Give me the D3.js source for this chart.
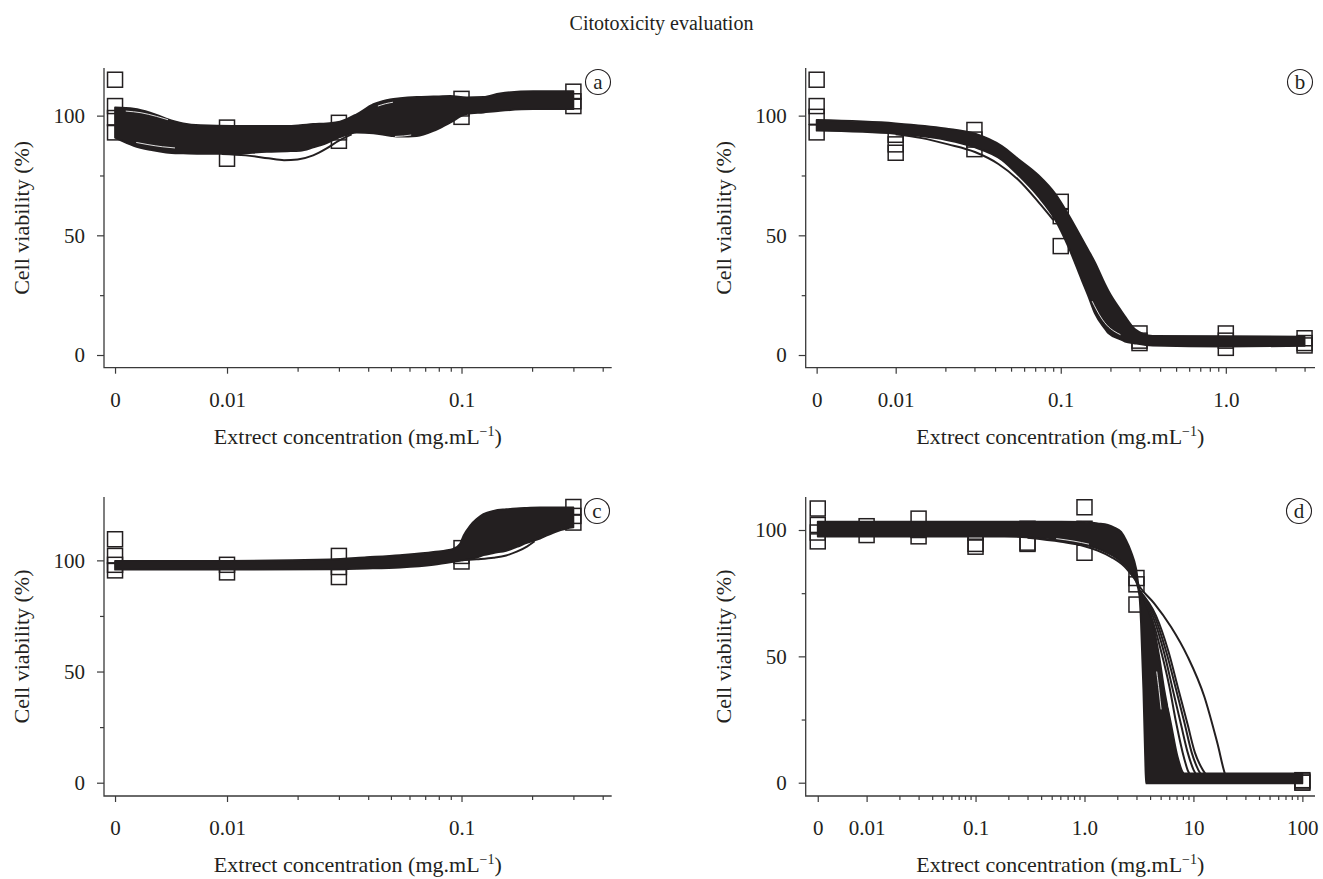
<!DOCTYPE html>
<html>
<head>
<meta charset="utf-8">
<script src="https://cdn.jsdelivr.net/npm/d3@7"></script>
<style>
  body { margin: 0; background: #fff; }
  text { font-family: "Liberation Serif", "Times New Roman", serif; fill: #231f20; }
  .tick text { font-size: 21px; }
</style>
</head>
<body>
<svg id="chart" width="1323" height="879"></svg>
<script>
"use strict";

// ---------------- data ----------------
var chartTitle = "Citotoxicity evaluation";
var yTitle = "Cell viability (%)";
var xTitleMain = "Extrect concentration (mg.mL";
var xTitleSup = "\u22121";

var yTicks = [0, 50, 100];
var yMinor = [25, 75];

// panel a
var xTicksA = [0, 0.01, 0.1];
var xLabelsA = ["0", "0.01", "0.1"];
var pointsA = [[0, 115], [0, 104], [0, 99], [0, 93], [0.01, 95], [0.01, 90], [0.01, 82],
  [0.03, 97], [0.03, 93], [0.03, 89.5], [0.1, 107], [0.1, 103], [0.1, 99.5],
  [0.3, 110], [0.3, 106], [0.3, 104]];
var bandDoseA = [0, 0.004, 0.0047, 0.0055, 0.0065, 0.0077, 0.0106, 0.0148, 0.018, 0.0205, 0.0233, 0.0266,
  0.0303, 0.0357, 0.0421, 0.0496, 0.0547, 0.0644, 0.0759, 0.0894, 0.105, 0.124, 0.146, 0.202, 0.3];
var bandHiA = [103.4, 102.9, 101.3, 98.8, 96.8, 96.0, 95.7, 95.7, 95.7, 96.0, 96.5, 96.8,
  97.5, 100.6, 104.8, 106.8, 107.3, 107.8, 108.0, 108.2, 107.6, 107.8, 109.3, 110.2, 110.2];
var bandLoA = [90.8, 87.4, 85.7, 84.6, 84.2, 84.0, 84.0, 84.9, 85.1, 85.3, 86.7, 88.5,
  91.0, 92.9, 92.6, 91.6, 91.2, 91.5, 93.6, 97.1, 100.6, 101.3, 102.0, 102.7, 102.7];
var curvesA = [
  [[0.0095, 84.0], [0.012, 83.4], [0.015, 82.2], [0.0175, 81.4], [0.02, 81.7], [0.0233, 83.4], [0.0266, 86.3], [0.03, 89.6], [0.034, 92.2]]
];
var gapsA = [
  [[0.0037, 101.9], [0.0043, 101.2], [0.005, 99.7], [0.0056, 98.3]],
  [[0.0041, 88.8], [0.0046, 87.9], [0.0053, 87.0], [0.006, 86.5]],
  [[0.044, 104.0], [0.0475, 105.0], [0.051, 105.6]],
  [[0.052, 91.3], [0.0565, 91.5], [0.061, 91.9]]
];

// panel b
var xTicksB = [0, 0.01, 0.1, 1];
var xLabelsB = ["0", "0.01", "0.1", "1.0"];
var pointsB = [[0, 115], [0, 104], [0, 99.5], [0, 93], [0.01, 92], [0.01, 88], [0.01, 84.5],
  [0.03, 94], [0.03, 90], [0.03, 86], [0.1, 64], [0.1, 58], [0.1, 45.5],
  [0.3, 9], [0.3, 6], [0.3, 5], [1, 9], [1, 6], [1, 3], [3, 7], [3, 4], [3, 5]];
var bandDoseB = [0, 0.01, 0.02, 0.03, 0.044, 0.055, 0.073, 0.093, 0.111, 0.134, 0.147, 0.161,
  0.185, 0.194, 0.234, 0.245, 0.282, 0.36, 1, 3];
var bandHiB = [98.2, 96.8, 94.7, 92.6, 87.3, 82.0, 75.2, 67.2, 58.8, 48.8, 43.8, 38.8,
  29.8, 27.0, 18.2, 16.2, 10.8, 8.0, 7.9, 7.7];
var bandLoB = [93.7, 92.4, 89.9, 86.8, 81.5, 75.3, 66.2, 56.2, 45.3, 31.3, 24.5, 17.4,
  11.0, 9.1, 6.3, 5.6, 4.8, 3.9, 3.5, 3.8];
var curvesB = [
  [[0.01, 92.2], [0.0144, 90.6], [0.0208, 88.0], [0.0302, 84.8], [0.0419, 79.8], [0.0553, 73.2], [0.0731, 64.0], [0.09, 56.5]]
];
var gapsB = [
  [[0.155, 22.5], [0.165, 18.8], [0.178, 15.0], [0.19, 12.5], [0.21, 10.0], [0.23, 8.5]]
];

// panel c
var xTicksC = [0, 0.01, 0.1];
var xLabelsC = ["0", "0.01", "0.1"];
var pointsC = [[0, 109.5], [0, 102], [0, 95.5], [0, 98], [0.01, 98], [0.01, 94.6],
  [0.03, 102], [0.03, 92.5], [0.03, 97], [0.1, 105.5], [0.1, 99.5], [0.1, 102],
  [0.3, 124], [0.3, 117], [0.3, 120]];
var bandDoseC = [0, 0.01, 0.0275, 0.0394, 0.0547, 0.0759, 0.0922, 0.0986, 0.102, 0.1087, 0.116, 0.124,
  0.137, 0.155, 0.172, 0.19, 0.216, 0.246, 0.281, 0.3];
var bandHiC = [99.8, 99.8, 100.4, 101.4, 102.4, 103.8, 105.2, 107.5, 111.1, 115.6, 118.6, 120.8,
  122.3, 123.0, 123.4, 123.6, 123.8, 123.8, 123.8, 123.8];
var bandLoC = [95.8, 95.8, 96.0, 96.3, 96.8, 98.0, 99.3, 99.8, 100.1, 100.6, 101.2, 102.3,
  103.3, 104.3, 106.0, 107.8, 109.8, 112.4, 114.3, 114.8];
var curvesC = [
  [[0.1, 100.0], [0.116, 100.5], [0.137, 101.2], [0.155, 102.2], [0.172, 103.9], [0.19, 106.2], [0.205, 108.6]]
];
var gapsC = [];

// panel d
var xTicksD = [0, 0.01, 0.1, 1, 10, 100];
var xLabelsD = ["0", "0.01", "0.1", "1.0", "10", "100"];
var pointsD = [[0, 108.5], [0, 102], [0, 99], [0, 95.5], [0.01, 101.5], [0.01, 98],
  [0.03, 104.5], [0.03, 100], [0.03, 97.5], [0.1, 94.5], [0.1, 93.4], [0.1, 99],
  [0.3, 100.5], [0.3, 95], [0.3, 94.5], [1, 109], [1, 100.5], [1, 91], [1, 99],
  [3, 81], [3, 78.5], [3, 70.5], [100, 0.5], [100, 0], [100, 1]];
var bandDoseD = [0, 0.185, 0.373, 0.611, 1.0, 1.32, 1.64, 1.88, 2.17, 2.41, 2.68, 2.98, 3.19,
  3.3, 3.47, 3.6, 3.67, 3.8, 4.22, 4.86, 5.41, 6.22, 7.16, 8.24, 100];
var bandHiD = [103.3, 103.3, 103.3, 103.3, 103.2, 102.6, 102.0, 101.0, 99.3, 96.0, 91.4, 84.8, 76.3,
  75.2, 73.2, 71.4, 70.4, 69.0, 63.1, 49.9, 36.7, 23.5, 10.3, 3.7, 3.7];
var bandLoD = [97.4, 97.4, 96.8, 95.8, 94.2, 92.6, 90.8, 89.4, 87.4, 85.6, 83.2, 79.6, 74.0,
  63.1, 36.7, 10.3, -0.3, -0.3, -0.3, -0.3, -0.3, -0.3, -0.3, -0.3, -0.3];
var curvesD = [
  [[0.3, 96.9], [0.611, 95.3], [1.0, 93.6], [1.32, 91.9], [1.76, 89.3], [2.32, 85.6], [2.85, 80.9],
    [3.3, 76.8], [4.38, 70.9], [6.22, 61.7], [8.85, 49.9], [12.6, 34.0], [16.6, 15.6], [19.9, 2.4], [21, 0.8]],
  [[3.19, 76], [4.08, 66], [5.05, 52], [6.02, 38], [6.92, 24], [7.96, 12], [8.85, 5], [9.84, 1.5]],
  [[3.19, 76], [4.23, 66], [5.41, 51], [6.45, 37], [7.69, 23], [8.85, 12], [10.05, 5], [11.3, 1.5]],
  [[3.19, 76], [4.39, 66], [5.61, 52], [6.92, 37], [8.24, 24], [9.63, 12], [11.1, 5], [12.6, 1.5]],
  [[3.19, 76], [4.54, 66], [5.89, 52], [7.27, 37], [8.85, 23], [10.3, 12], [12.2, 5], [14.0, 1.5]]
];
var gapsD = [
  [[0.55, 96.6], [0.8, 95.6], [1.1, 94.4]],
  [[4.6, 44], [4.85, 36], [5.05, 29]],
  [[5.9, 31], [6.5, 24], [7.0, 18]]
];

// ---------------- layout ----------------
var ink = "#231f20";
var svg = d3.select("#chart");

var panels = [
  { letter: "a", lx: 598, ly: 82, left: 104, right: 611.7, top: 68, bottom: 367.7,
    xDomain: [0.002988, 0.437], zero: 0.00333, yDomain: [-5.3, 119.9],
    xTicks: xTicksA, xLabels: xLabelsA, points: pointsA,
    band: [bandDoseA, bandHiA, bandLoA], curves: curvesA, gaps: gapsA },
  { letter: "b", lx: 1300, ly: 82, left: 805.7, right: 1315, top: 68, bottom: 367.7,
    xDomain: [0.00285, 3.47], zero: 0.00332, yDomain: [-5.3, 119.9],
    xTicks: xTicksB, xLabels: xLabelsB, points: pointsB,
    band: [bandDoseB, bandHiB, bandLoB], curves: curvesB, gaps: gapsB },
  { letter: "c", lx: 597, ly: 511, left: 104, right: 611.7, top: 497, bottom: 796,
    xDomain: [0.002988, 0.437], zero: 0.00333, yDomain: [-5.98, 128.5],
    xTicks: xTicksC, xLabels: xLabelsC, points: pointsC,
    band: [bandDoseC, bandHiC, bandLoC], curves: curvesC, gaps: gapsC },
  { letter: "d", lx: 1299, ly: 511, left: 805.7, right: 1315, top: 497, bottom: 796,
    xDomain: [0.00276, 130.6], zero: 0.00356, yDomain: [-5.26, 113.06],
    xTicks: xTicksD, xLabels: xLabelsD, points: pointsD,
    band: [bandDoseD, bandHiD, bandLoD], curves: curvesD, gaps: gapsD }
];

// main title
svg.append("text")
  .attr("x", 661.5)
  .attr("y", 29.5)
  .attr("text-anchor", "middle")
  .style("font-size", "20px")
  .text(chartTitle);

panels.forEach(drawPanel);

function drawPanel(p) {
  var x = d3.scaleLog().domain(p.xDomain).range([p.left, p.right]);
  var y = d3.scaleLinear().domain(p.yDomain).range([p.bottom, p.top]);
  var xp = function(d) { return x(d === 0 ? p.zero : d); };
  var g = svg.append("g");

  // minor x ticks: 2..9 in each decade
  var minors = [];
  [0.01, 0.1, 1, 10].forEach(function(base) {
    for (var k = 2; k <= 9; k++) {
      if (base * k < p.xDomain[1]) minors.push(base * k);
    }
  });

  var xAxisG = g.append("g")
    .attr("transform", "translate(0," + p.bottom + ")")
    .attr("color", "#3a3a3a");
  xAxisG.append("g")
    .call(d3.axisBottom(x)
      .tickValues(p.xTicks.map(function(d) { return d === 0 ? p.zero : d; }))
      .tickSize(6)
      .tickSizeOuter(0)
      .tickPadding(18)
      .tickFormat(function(d, i) { return p.xLabels[i]; }));
  xAxisG.append("g")
    .call(d3.axisBottom(x).tickValues(minors).tickSize(4).tickSizeOuter(0).tickFormat(""));
  xAxisG.selectAll(".domain").remove();
  xAxisG.selectAll(".tick line").attr("stroke-width", 1.2);

  var yAxisG = g.append("g")
    .attr("transform", "translate(" + p.left + ",0)")
    .attr("color", "#3a3a3a");
  yAxisG.append("g")
    .call(d3.axisLeft(y).tickValues(yTicks).tickSize(7).tickSizeOuter(0).tickPadding(12));
  yAxisG.append("g")
    .call(d3.axisLeft(y).tickValues(yMinor).tickSize(4).tickSizeOuter(0).tickFormat(""));
  yAxisG.selectAll(".domain").remove();
  yAxisG.selectAll(".tick line").attr("stroke-width", 1.2);

  // L-shaped frame
  g.append("path")
    .attr("d", "M" + p.left + "," + p.top + "V" + p.bottom + "H" + p.right)
    .attr("fill", "none")
    .attr("stroke", "#3a3a3a")
    .attr("stroke-width", 1.3);

  // axis titles
  g.append("text")
    .attr("transform", "translate(" + (p.left - 75) + "," + ((p.top + p.bottom) / 2) + ") rotate(-90)")
    .attr("text-anchor", "middle")
    .style("font-size", "22px")
    .text(yTitle);

  var xt = g.append("text")
    .attr("x", (p.left + p.right) / 2)
    .attr("y", p.bottom + 76)
    .attr("text-anchor", "middle")
    .style("font-size", "22px");
  xt.append("tspan").text(xTitleMain);
  xt.append("tspan").attr("dy", -8).style("font-size", "14px").text(xTitleSup);
  xt.append("tspan").attr("dy", 8).text(")");

  // observations (drawn first, curves go over them)
  g.selectAll("rect.obs")
    .data(p.points)
    .enter()
    .append("rect")
    .attr("class", "obs")
    .attr("x", function(d) { return xp(d[0]) - 7.5; })
    .attr("y", function(d) { return y(d[1]) - 7.5; })
    .attr("width", 15)
    .attr("height", 15)
    .attr("fill", "none")
    .attr("stroke", ink)
    .attr("stroke-width", 1.5);

  // dense bundle of fitted curves
  var bandRows = p.band[0].map(function(d, i) { return [d, p.band[1][i], p.band[2][i]]; });
  var area = d3.area()
    .x(function(d) { return xp(d[0]); })
    .y0(function(d) { return y(d[2]); })
    .y1(function(d) { return y(d[1]); })
    .curve(d3.curveMonotoneX);
  g.append("path")
    .datum(bandRows)
    .attr("d", area)
    .attr("fill", ink)
    .attr("stroke", ink)
    .attr("stroke-width", 1.8)
    .attr("stroke-linejoin", "round");

  var line = d3.line()
    .x(function(d) { return xp(d[0]); })
    .y(function(d) { return y(d[1]); })
    .curve(d3.curveMonotoneX);

  // single curves that leave the bundle
  g.selectAll("path.curve")
    .data(p.curves)
    .enter()
    .append("path")
    .attr("class", "curve")
    .attr("d", line)
    .attr("fill", "none")
    .attr("stroke", ink)
    .attr("stroke-width", 2);

  // thin light gaps inside the bundle
  g.selectAll("path.gap")
    .data(p.gaps)
    .enter()
    .append("path")
    .attr("class", "gap")
    .attr("d", line)
    .attr("fill", "none")
    .attr("stroke", "#fff")
    .attr("stroke-opacity", 0.85)
    .attr("stroke-width", 1);

  // panel letter
  g.append("circle")
    .attr("cx", p.lx)
    .attr("cy", p.ly)
    .attr("r", 12.5)
    .attr("fill", "#fff")
    .attr("stroke", ink)
    .attr("stroke-width", 1.1);
  g.append("text")
    .attr("x", p.lx)
    .attr("y", p.ly)
    .attr("dy", "0.33em")
    .attr("text-anchor", "middle")
    .style("font-size", "21px")
    .text(p.letter);
}
</script>
</body>
</html>
